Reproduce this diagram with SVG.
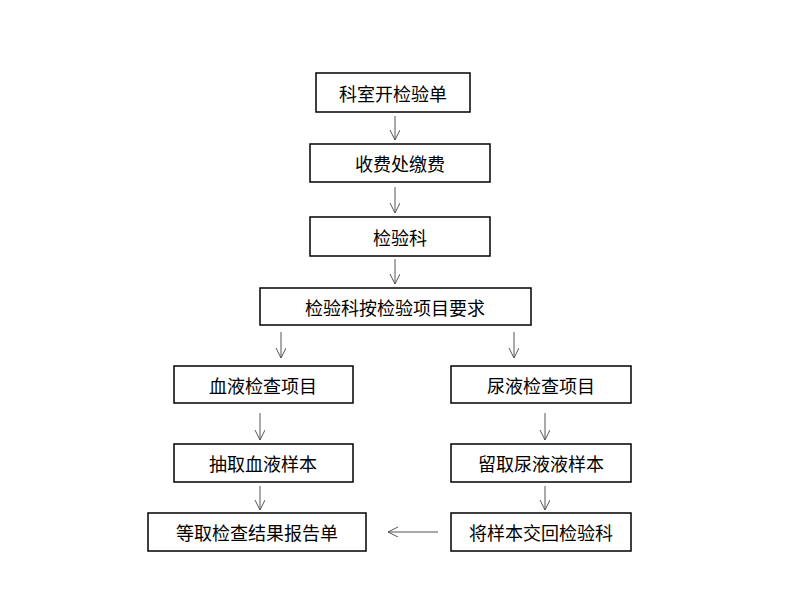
<svg xmlns="http://www.w3.org/2000/svg" width="800" height="600" viewBox="0 0 800 600">
<style>
.b{fill:#fff;stroke:#000;stroke-width:1.5}
.t{font-family:"Noto Sans CJK SC",sans-serif;font-size:18px;fill:#000;text-anchor:middle;dominant-baseline:central}
.c{stroke:#555;stroke-width:1;fill:none}
</style>
<defs><marker id="a" markerWidth="12" markerHeight="12" refX="10" refY="5" orient="auto" markerUnits="userSpaceOnUse"><path d="M0,0 L10,5 L0,10" fill="none" stroke="#555" stroke-width="1"/></marker></defs>
<rect width="800" height="600" fill="#fff"/>
<g id="n1"><rect class="b" x="316" y="73" width="154" height="39"/><text class="t" x="393" y="93">科室开检验单</text></g>
<g id="n2"><rect class="b" x="310" y="144" width="180" height="38"/><text class="t" x="400" y="163">收费处缴费</text></g>
<g id="n3"><rect class="b" x="310" y="217" width="180" height="39"/><text class="t" x="400" y="237">检验科</text></g>
<g id="n4"><rect class="b" x="260" y="288" width="271" height="37"/><text class="t" x="395" y="307">检验科按检验项目要求</text></g>
<g id="n5"><rect class="b" x="174" y="366" width="179" height="37"/><text class="t" x="263" y="385">血液检查项目</text></g>
<g id="n6"><rect class="b" x="451" y="366" width="180" height="37"/><text class="t" x="541" y="385">尿液检查项目</text></g>
<g id="n7"><rect class="b" x="174" y="444" width="179" height="38"/><text class="t" x="263" y="463">抽取血液样本</text></g>
<g id="n8"><rect class="b" x="451" y="444" width="180" height="38"/><text class="t" x="541" y="463">留取尿液液样本</text></g>
<g id="n9"><rect class="b" x="148" y="513" width="218" height="38"/><text class="t" x="257" y="532">等取检查结果报告单</text></g>
<g id="n10"><rect class="b" x="451" y="513" width="180" height="38"/><text class="t" x="541" y="532">将样本交回检验科</text></g>
<g id="connectors">
<line class="c" x1="395" y1="116" x2="395" y2="140" marker-end="url(#a)"/>
<line class="c" x1="395" y1="187" x2="395" y2="213" marker-end="url(#a)"/>
<line class="c" x1="395" y1="259" x2="395" y2="284" marker-end="url(#a)"/>
<line class="c" x1="281" y1="332" x2="281" y2="358" marker-end="url(#a)"/>
<line class="c" x1="514" y1="332" x2="514" y2="358" marker-end="url(#a)"/>
<line class="c" x1="260" y1="413" x2="260" y2="440" marker-end="url(#a)"/>
<line class="c" x1="545" y1="413" x2="545" y2="440" marker-end="url(#a)"/>
<line class="c" x1="260" y1="486" x2="260" y2="510" marker-end="url(#a)"/>
<line class="c" x1="545" y1="486" x2="545" y2="510" marker-end="url(#a)"/>
<line class="c" x1="438" y1="532" x2="388" y2="532" marker-end="url(#a)"/>
</g>
</svg>
